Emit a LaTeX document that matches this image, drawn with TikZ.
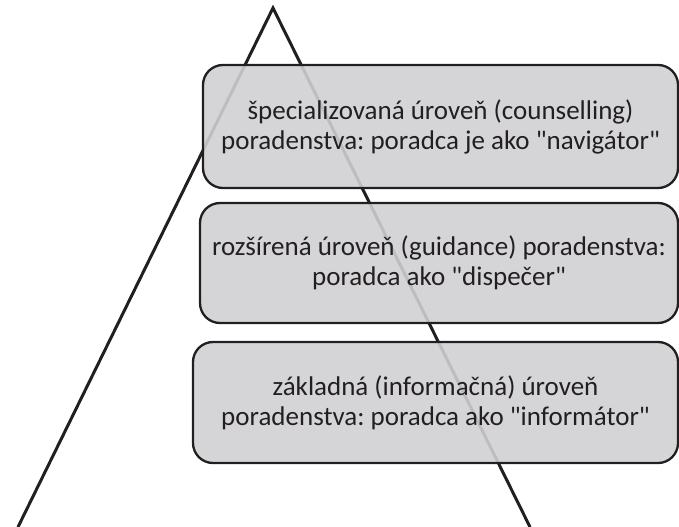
\documentclass[tikz,border=0pt]{standalone}
\usepackage{fontspec}
\setmainfont{Carlito}
\frenchspacing
\definecolor{ink}{RGB}{35,31,32}
\definecolor{boxfill}{RGB}{208,208,210}
\newcommand{\qq}[1]{\textquotedbl#1\textquotedbl}
\tikzset{
  level/.style={draw=ink, line width=2.3bp, rounded corners=20bp,
    fill=boxfill, fill opacity=0.89, text opacity=1, text=ink,
    align=center, inner sep=0pt,
    font=\fontsize{27bp}{30bp}\selectfont},
  leg/.style={draw=ink, line width=3bp, line join=miter}
}
\begin{document}
\begin{tikzpicture}[x=1bp,y=-1bp]
  \useasboundingbox (0,0) rectangle (679,527);
  % pyramid outline
  \coordinate (apex) at (273,8);
  \coordinate (bl) at (18,527);
  \coordinate (br) at (530,527);
  \draw[leg] (bl) -- (apex) -- (br);
  % levels
  \node[level, minimum width=475bp, minimum height=123bp] (top) at (440.5,126.5)
    {špecializovaná úroveň (counselling)\\poradenstva: poradca je ako \qq{navigátor}};
  \node[level, minimum width=478bp, minimum height=120bp] (mid) at (439,263)
    {rozšírená úroveň (guidance) poradenstva:\\poradca ako \qq{dispečer}};
  \node[level, minimum width=485bp, minimum height=121bp] (low) at (435.5,402.5)
    {základná (informačná) úroveň\\poradenstva: poradca ako \qq{informátor}};
\end{tikzpicture}
\end{document}
